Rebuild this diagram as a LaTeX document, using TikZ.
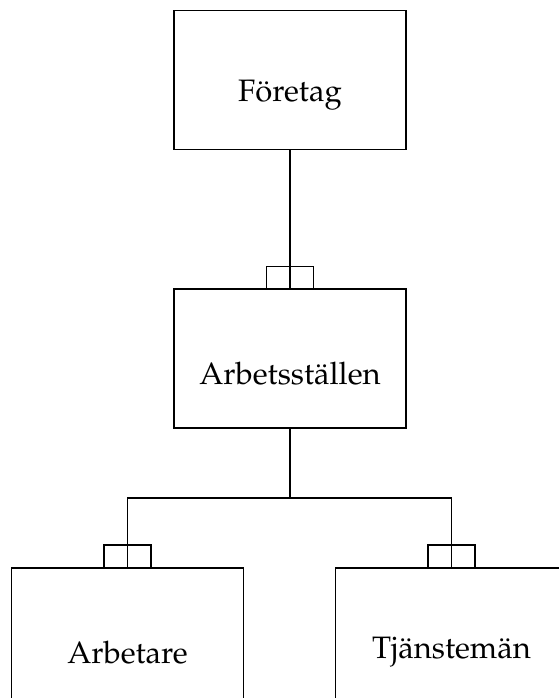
\documentclass[tikz,border=0pt]{standalone}
\usepackage[T1]{fontenc}
\usepackage{mathpazo}
\usetikzlibrary{positioning}
\tikzset{
  entity/.style={draw,line width=1.8pt,minimum width=232pt,minimum height=139pt,inner sep=0pt},
  entitytext/.style={font=\fontsize{31}{36}\selectfont},
  link/.style={line width=1.7pt},
  onemark/.pic={\draw[link] (-23.5,0) -- (-23.5,22) -- (23.5,22) -- (23.5,0);}
}
\begin{document}
\begin{tikzpicture}[x=1pt,y=1pt]
    \useasboundingbox (0,0) rectangle (558,698);
    % boxes
    \node[entity] (F) at (290,618) {};
    \node[entity,below=138pt of F] (A) {};
    \node[entity,below=138pt of A,xshift=-162.5pt] (B) {};
    \node[entity,below=138pt of A,xshift=161.5pt] (T) {};
    \node[entitytext] (Ft) at ([yshift=-15pt]F.center) {Företag};
    \node[entitytext] (At) at ([yshift=-15pt]A.center) {Arbetsställen};
    \node[entitytext] (Bt) at ([yshift=-15pt]B.center) {Arbetare};
    \node[entitytext] (Tt) at ([yshift=-15pt]T.center) {Tjänstemän};
    % connectors
    \coordinate (J) at ([yshift=-69pt]A.south);
    \draw[link] (F.south) -- (A.north);
    \draw[link] (A.south) -- (J);
    \draw[link] (B.north) |- (J) -| (T.north);
    \pic at (A.north) {onemark};
    \pic at (B.north) {onemark};
    \pic at (T.north) {onemark};
\end{tikzpicture}
\end{document}
